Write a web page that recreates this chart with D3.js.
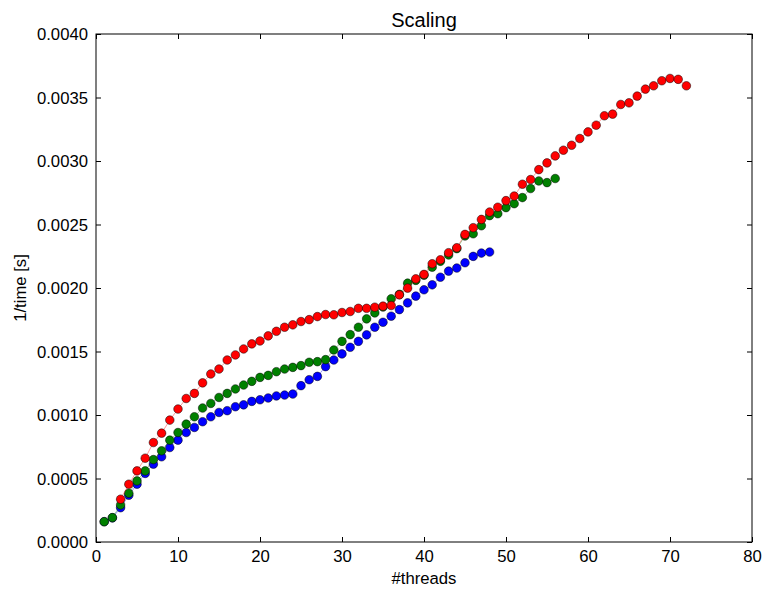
<!DOCTYPE html>
<html>
<head>
<meta charset="utf-8">
<script src="https://cdn.jsdelivr.net/npm/d3@7"></script>
<style>
  body { margin: 0; background: #fff; }
  svg { display: block; font-family: "Liberation Sans", Arial, sans-serif; }
</style>
</head>
<body>
<div id="chart"></div>
<script>
// Scaling plot: 1/time vs number of threads, three runs.

const xTicks = [0, 10, 20, 30, 40, 50, 60, 70, 80];
const yTicks = [0, 0.0005, 0.001, 0.0015, 0.002, 0.0025, 0.003, 0.0035, 0.004];

const blueThreads = d3.range(1, 49);
const blueValues = [
  0.00016, 0.00019, 0.00027, 0.000368, 0.000455, 0.00054, 0.000613, 0.000671,
  0.000744, 0.000802, 0.000862, 0.000902, 0.000947, 0.000986, 0.00102, 0.001034,
  0.001065, 0.00108, 0.001107, 0.00112, 0.001134, 0.00115, 0.001157, 0.001165,
  0.001231, 0.001278, 0.001304, 0.001381, 0.001433, 0.001481, 0.001533, 0.00158,
  0.001631, 0.001691, 0.00173, 0.001778, 0.00183, 0.001883, 0.001936, 0.001986,
  0.002025, 0.002085, 0.002133, 0.002157, 0.002199, 0.002249, 0.002275, 0.002283
];

const greenThreads = d3.range(1, 57);
const greenValues = [
  0.00016, 0.000192, 0.000292, 0.000384, 0.000481, 0.00056, 0.000649, 0.000718,
  0.000802, 0.000862, 0.000928, 0.000986, 0.001055, 0.001091, 0.001138, 0.00117,
  0.001205, 0.001236, 0.001265, 0.001296, 0.001312, 0.001341, 0.001362, 0.001375,
  0.001389, 0.001415, 0.00142, 0.001436, 0.001512, 0.00158, 0.001633, 0.001691,
  0.001757, 0.001804, 0.00185, 0.001915, 0.00195, 0.002038, 0.00206, 0.0021,
  0.002164, 0.00221, 0.00226, 0.00231, 0.00241, 0.002427, 0.00249, 0.00257,
  0.002585, 0.002633, 0.002664, 0.002712, 0.002783, 0.002843, 0.00283, 0.002862
];

const redThreads = d3.range(3, 73);
const redValues = [
  0.000337, 0.000455, 0.00056, 0.00066, 0.000783, 0.000857, 0.00096, 0.001047,
  0.00113, 0.00117, 0.001253, 0.001323, 0.001362, 0.001433, 0.001473, 0.00152,
  0.00156, 0.001583, 0.001623, 0.001659, 0.001691, 0.00171, 0.001736, 0.001751,
  0.001775, 0.001791, 0.001789, 0.001807, 0.001815, 0.00184, 0.00184, 0.001849,
  0.001857, 0.001862, 0.001946, 0.001999, 0.002072, 0.002107, 0.002191, 0.002222,
  0.002278, 0.002317, 0.002422, 0.002475, 0.00254, 0.002598, 0.002636, 0.002688,
  0.002724, 0.002817, 0.002854, 0.002932, 0.002985, 0.00304, 0.003085, 0.003124,
  0.003177, 0.003229, 0.003282, 0.003356, 0.003369, 0.003445, 0.003458, 0.003511,
  0.003566, 0.003592, 0.003632, 0.00365, 0.003643, 0.003592
];

const series = [
  { color: "#0000ff", threads: blueThreads, values: blueValues },
  { color: "#008000", threads: greenThreads, values: greenValues },
  { color: "#ff0000", threads: redThreads, values: redValues }
];

const width = 762;
const height = 592;
const margin = { top: 34, right: 10, bottom: 50, left: 96 };
const innerWidth = width - margin.left - margin.right;
const innerHeight = height - margin.top - margin.bottom;
const fontFamily = '"Liberation Sans", Arial, sans-serif';

const svg = d3.select("#chart")
  .append("svg")
  .attr("width", width)
  .attr("height", height)
  .attr("font-family", fontFamily);

const g = svg.append("g")
  .attr("transform", `translate(${margin.left},${margin.top})`);

const x = d3.scaleLinear().domain([0, 80]).range([0, innerWidth]);
const y = d3.scaleLinear().domain([0, 0.004]).range([innerHeight, 0]);

const tickLen = 5;

// axes with inward ticks on all four sides
const xBottom = g.append("g")
  .attr("transform", `translate(0,${innerHeight})`)
  .call(d3.axisBottom(x).tickValues(xTicks).tickSizeInner(-tickLen).tickSizeOuter(0).tickFormat(d3.format("d")));
const xTop = g.append("g")
  .call(d3.axisTop(x).tickValues(xTicks).tickSizeInner(-tickLen).tickSizeOuter(0));
const yLeft = g.append("g")
  .call(d3.axisLeft(y).tickValues(yTicks).tickSizeInner(-tickLen).tickSizeOuter(0).tickFormat(d3.format(".4f")));
const yRight = g.append("g")
  .attr("transform", `translate(${innerWidth},0)`)
  .call(d3.axisRight(y).tickValues(yTicks).tickSizeInner(-tickLen).tickSizeOuter(0));

// top and right axes only carry tick marks
xTop.selectAll("text").remove();
yRight.selectAll("text").remove();

[xBottom, xTop, yLeft, yRight].forEach((ax) => {
  ax.attr("font-family", fontFamily).attr("font-size", 16.7);
  ax.select(".domain").remove();
  ax.selectAll("line").attr("stroke", "#000").attr("stroke-width", 1);
  ax.selectAll("text").attr("fill", "#000");
});

// explicit label placement (baseline 20px below the x axis, 8px left of y axis)
xBottom.selectAll("text").attr("y", 20).attr("dy", null);
yLeft.selectAll("text").attr("x", -8).attr("dy", "0.35em");

// series: thin connecting line + circle markers
const line = d3.line().x((d) => x(d[0])).y((d) => y(d[1]));

series.forEach((s) => {
  const pts = s.threads.map((t, i) => [t, s.values[i]]);
  g.append("path")
    .datum(pts)
    .attr("fill", "none")
    .attr("stroke", s.color)
    .attr("stroke-width", 0.4)
    .attr("d", line);
  g.append("g")
    .selectAll("circle")
    .data(pts)
    .enter()
    .append("circle")
    .attr("cx", (d) => x(d[0]))
    .attr("cy", (d) => y(d[1]))
    .attr("r", 4.3)
    .attr("fill", s.color)
    .attr("stroke", "#000")
    .attr("stroke-width", 0.5);
});

// frame
g.append("rect")
  .attr("width", innerWidth)
  .attr("height", innerHeight)
  .attr("fill", "none")
  .attr("stroke", "#000")
  .attr("stroke-width", 1);

svg.append("text")
  .attr("x", margin.left + innerWidth / 2)
  .attr("y", 27)
  .attr("text-anchor", "middle")
  .attr("font-size", 20)
  .text("Scaling");

svg.append("text")
  .attr("x", margin.left + innerWidth / 2)
  .attr("y", 584)
  .attr("text-anchor", "middle")
  .attr("font-size", 16.7)
  .text("#threads");

svg.append("text")
  .attr("transform", `translate(26,${margin.top + innerHeight / 2}) rotate(-90)`)
  .attr("text-anchor", "middle")
  .attr("font-size", 16.7)
  .text("1/time [s]");
</script>
</body>
</html>
